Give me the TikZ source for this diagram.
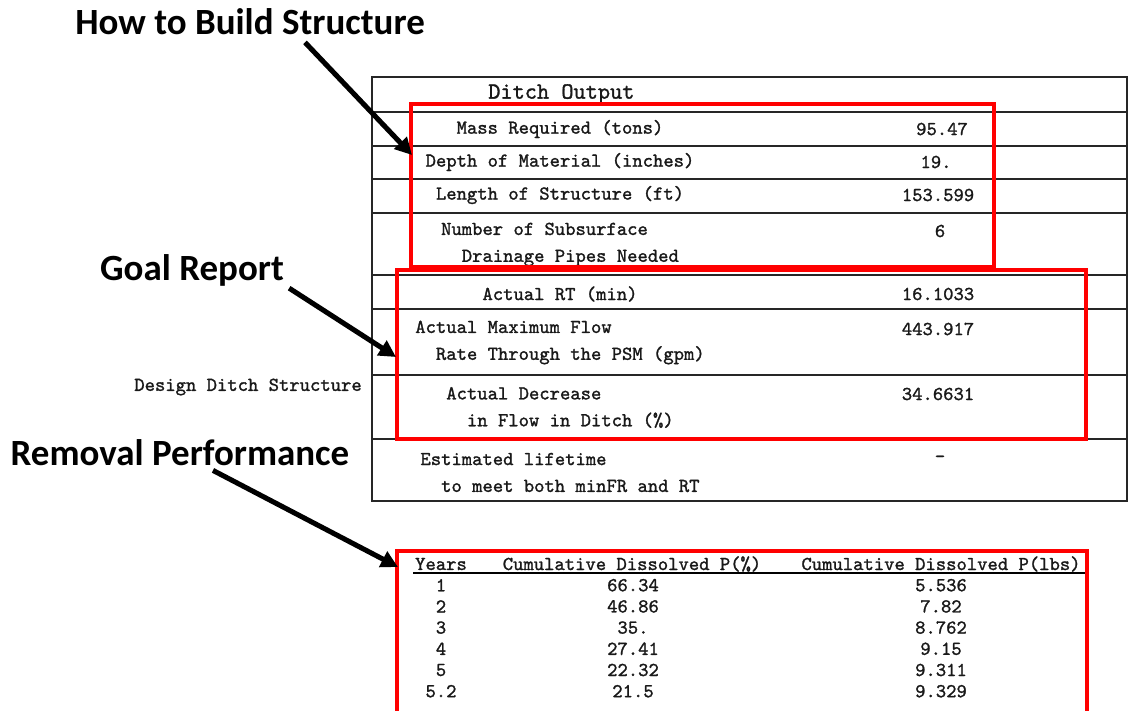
\documentclass[tikz,border=0pt]{standalone}
\usepackage{fontspec}
\newfontfamily\calloutfont{Carlito}
\newfontfamily\tablefont{lmmono10-regular.otf}[FakeBold=1.3]
\usetikzlibrary{arrows.meta,positioning}
\tikzset{
     cell text/.style={font=\tablefont\fontsize{14}{19.1}\selectfont, text=black!90, inner sep=0pt, align=left},
     title text/.style={font=\tablefont\fontsize{16.5}{19}\selectfont, text=black!90, inner sep=0pt},
     callout/.style={font=\calloutfont\bfseries\fontsize{26.3}{30}\selectfont, inner sep=0pt},
      rowline/.style   = {black!85, line width=1.1pt},
      redbox/.style = {red, line width=2.9pt},
      pointer/.style = {black, line width=3.6pt, -{Triangle[length=12pt,width=12pt]}},
    }

\begin{document}
\begin{tikzpicture}[x=0.025cm,y=-0.025cm]
        \useasboundingbox (0,0) rectangle (1128,710);
        % ditch output table
        \draw[rowline] (372,77) rectangle (1127,501);
        \foreach \y in {112,146,179,213,275,309,375,439}
            \draw[rowline] (372,\y) -- (1127,\y);
        \node [title text, anchor=west] (ditchtitle) at (488,94) {Ditch Output};
        \node [cell text] (massreq)   at (560,129)   {Mass Required (tons)};
        \node [cell text] (depthmat)  at (560,162)   {Depth of Material (inches)};
        \node [cell text] (lenstruct) at (560,195)   {Length of Structure (ft)};
        \node [cell text] (drainpipes) at (560,244.5) {Number of Subsurface\\~~Drainage Pipes Needed};
        \node [cell text] (actualrt)  at (560,294)   {Actual RT (min)};
        \node [cell text] (maxflow)   at (560,342.5) {Actual Maximum Flow\\~~Rate Through the PSM (gpm)};
        \node [cell text] (flowdecrease) at (560,407.5) {Actual Decrease\\~~in Flow in Ditch (\%)};
        \node [cell text] (lifetime)  at (560,472.5) {Estimated lifetime\\~~to meet both minFR and RT};
        \node [cell text] (massval)   at (942,129) {95.47};
        \node [cell text] (depthval)  at (936,162) {19.};
        \node [cell text] (lenval)    at (938,195) {153.599};
        \node [cell text] (pipesval)  at (940,231) {6};
        \node [cell text] (rtval)     at (938,294) {16.1033};
        \node [cell text] (flowval)   at (938,329) {443.917};
        \node [cell text] (decreaseval) at (938,394) {34.6631};
        \node [cell text] (lifeval)   at (940,459) {-};
        \node [cell text, anchor=east] (designditch) at (362,387) {Design Ditch Structure};
        % removal table
        \node [cell text] (yearshead) at (441,564) {Years};
        \node [cell text] (pcthead)   at (632,564) {Cumulative Dissolved P(\%)};
        \node [cell text] (lbshead)   at (941,564) {Cumulative Dissolved P(lbs)};
        \draw[black, line width=1.2pt] (413,573) -- (1087,573);
        \foreach \yr/\pct/\lbs [count=\i] in {1/66.34/5.536, 2/46.86/7.82, 3/35./8.762, 4/27.41/9.15, 5/22.32/9.311, 5.2/21.5/9.329}
        {
            \node [cell text] (yr\i)  at (441,564+21.2*\i) {\yr};
            \node [cell text] (pct\i) at (633,564+21.2*\i) {\pct};
            \node [cell text] (lbs\i) at (941,564+21.2*\i) {\lbs};
        }
        % red frames
        \draw[redbox] (411,104) rectangle (994,267);
        \draw[redbox] (397,270) rectangle (1086,439);
        \draw[redbox] (397,551) rectangle (1087,720);
        % callouts
        \node [callout] (howto)       at (250,22)  {How to Build Structure};
        \node [callout] (goalrep)     at (192,270) {Goal Report};
        \node [callout] (removalperf) at (180,453) {Removal Performance};
        \coordinate (howtoTail) at ([shift={(55,7)}]howto.south);
        \coordinate (goalTail) at ([shift={(5,2)}]goalrep.south east);
        \coordinate (removalTail) at ([shift={(33,4)}]removalperf.south);
        \coordinate (howtoTip) at (412,155);
        \coordinate (goalTip) at (396,357);
        \coordinate (removalTip) at (398,567);
        \path[pointer]
        (howtoTail) edge (howtoTip)
        (goalTail) edge (goalTip)
        (removalTail) edge (removalTip);
    \end{tikzpicture}
\end{document}
